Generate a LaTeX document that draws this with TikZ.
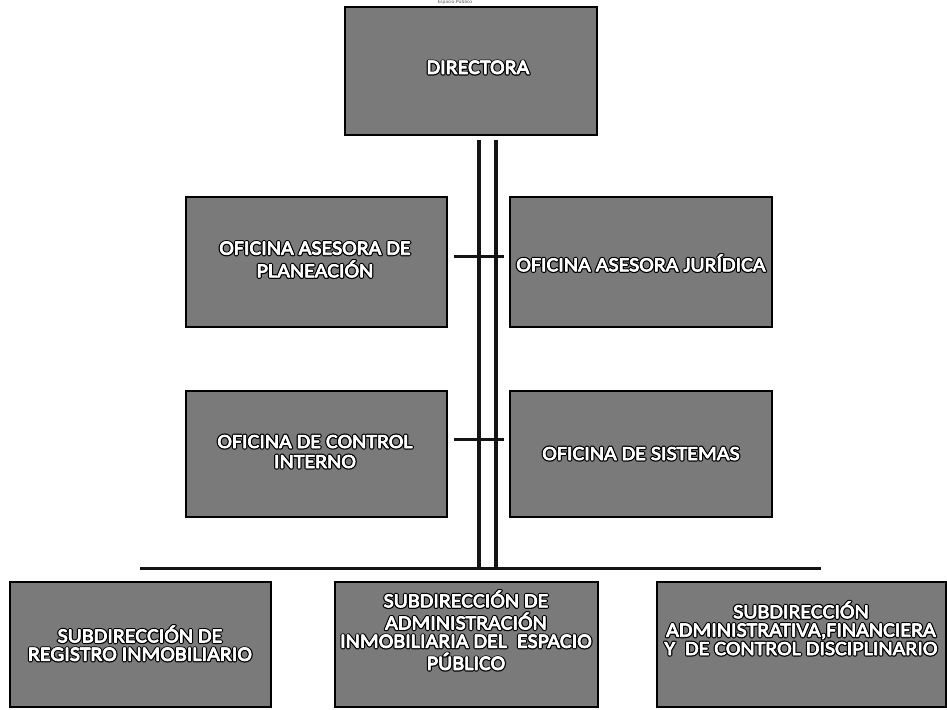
\documentclass[tikz,border=0pt]{standalone}
\usepackage{fontspec}
\setmainfont[FakeStretch=1.1]{Carlito}
\definecolor{boxgray}{RGB}{122,122,122}
\definecolor{linedark}{RGB}{20,20,20}
\newcommand\olab[1]{\begin{tabular}{@{}c@{}}#1\end{tabular}}
\newcommand\otext[1]{\rlap{\special{pdf:literal 2 Tr 1 j 3.2 w 0 0 0 RG}\color{black}\olab{#1}\special{pdf:literal 0 Tr}}\rlap{\special{pdf:literal 2 Tr 1 j 0.7 w 1 1 1 RG}\color{white}\olab{#1}\special{pdf:literal 0 Tr}}\color{white}\olab{#1}}
\tikzset{
  orgbox/.style={draw=black, line width=1.6pt, fill=boxgray, rectangle, inner sep=0pt},
  lab/.style={inner sep=0pt, font=\fontsize{20}{20}\selectfont},
  labs/.style={inner sep=0pt, font=\fontsize{20}{18}\selectfont},
  trunk/.style={draw=linedark, line width=3.4pt},
  bus/.style={draw=linedark, line width=3pt}
}
\begin{document}
\begin{tikzpicture}[x=1pt,y=-1pt]
\useasboundingbox (0,0) rectangle (947,709);
% top text
\node[inner sep=0pt, font=\fontsize{5}{5}\selectfont, text=black!65] (hdr) at (455,2.6) {Espacio Público};
% boxes
\node[orgbox, minimum width=252pt, minimum height=128pt] (dir) at (471,71) {};
\node[orgbox, minimum width=261pt, minimum height=130pt] (plan) at (316.5,262) {};
\node[orgbox, minimum width=262pt, minimum height=130pt] (jur) at (641,262) {};
\node[orgbox, minimum width=261pt, minimum height=126pt] (ctrl) at (316.5,454) {};
\node[orgbox, minimum width=262pt, minimum height=126pt] (sis) at (641,454) {};
\node[orgbox, minimum width=261pt, minimum height=125pt] (sub1) at (140.5,644.5) {};
\node[orgbox, minimum width=263pt, minimum height=125pt] (sub2) at (466.5,644.5) {};
\node[orgbox, minimum width=289pt, minimum height=125pt] (sub3) at (801.5,644.5) {};
% labels
\node[lab] (tdir) at (478,70) {\otext{DIRECTORA}};
\node[lab] (tplan) at (315,262) {\otext{OFICINA ASESORA DE\\PLANEACIÓN}};
\node[lab] (tjur) at (641,266) {\otext{OFICINA ASESORA JURÍDICA}};
\node[lab] (tctrl) at (315,454) {\otext{OFICINA DE CONTROL\\INTERNO}};
\node[lab] (tsis) at (641,456) {\otext{OFICINA DE SISTEMAS}};
\node[labs] (tsub1) at (140,646) {\otext{SUBDIRECCIÓN DE\\REGISTRO INMOBILIARIO}};
\node[labs] (tsub2) at (466,633) {\otext{SUBDIRECCIÓN DE\\ADMINISTRACIÓN\\INMOBILIARIA DEL\ \ ESPACIO\\PÚBLICO}};
\node[labs] (tsub3) at (801,631) {\otext{SUBDIRECCIÓN\\ADMINISTRATIVA,FINANCIERA\\Y\ \ DE CONTROL DISCIPLINARIO}};
% connectors
\coordinate (t1top) at ([xshift=8pt,yshift=-4pt]dir.south);
\coordinate (t2top) at ([xshift=25pt,yshift=-4pt]dir.south);
\coordinate (busL) at (140,568);
\coordinate (busR) at (821,568);
\coordinate (t1bot) at (t1top |- busL);
\coordinate (t2bot) at (t2top |- busL);
\path[trunk] (t1top) -- (t1bot);
\path[trunk] (t2top) -- (t2bot);
\path[bus] (busL) -- (busR);
\coordinate (s1L) at ([xshift=6pt,yshift=6pt]plan.east);
\coordinate (s1R) at ([xshift=-5pt,yshift=6pt]jur.west);
\path[bus] (s1L) -- (s1R);
\coordinate (s2L) at ([xshift=6pt,yshift=15pt]ctrl.east);
\coordinate (s2R) at ([xshift=-5pt,yshift=15pt]sis.west);
\path[bus] (s2L) -- (s2R);
\end{tikzpicture}
\end{document}
